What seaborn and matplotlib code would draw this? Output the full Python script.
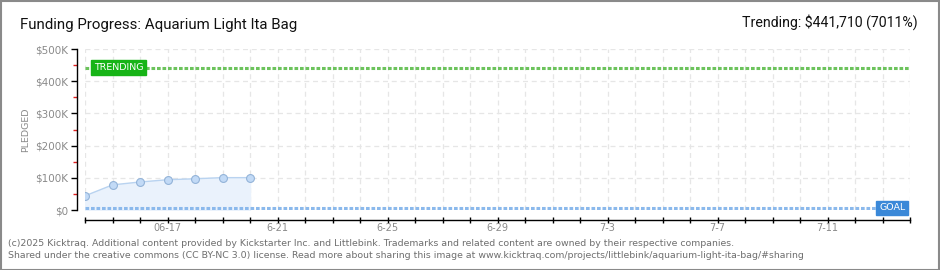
import matplotlib
matplotlib.use("Agg")
import matplotlib.pyplot as plt
import matplotlib.dates as mdates
from matplotlib.ticker import FixedLocator, FuncFormatter
from matplotlib.patches import Rectangle
import seaborn as sns
import pandas as pd

# ---- data ----
dates = ["2025-06-14", "2025-06-15", "2025-06-16", "2025-06-17",
         "2025-06-18", "2025-06-19", "2025-06-20"]
pledged = [44000, 78000, 87000, 94000, 97000, 100500, 100500]
goal = 6300
trending = 441710
trending_pct = "7011%"
xlabels_dates = ["2025-06-17", "2025-06-21", "2025-06-25", "2025-06-29",
                 "2025-07-03", "2025-07-07", "2025-07-11"]
xlabels_text = ["06-17", "6-21", "6-25", "6-29", "7-3", "7-7", "7-11"]
ytick_vals = [0, 100000, 200000, 300000, 400000, 500000]
ytick_labels = ["$0", "$100K", "$200K", "$300K", "$400K", "$500K"]
x_start, x_end = "2025-06-14", "2025-07-14"

sns.set_theme(style="white")
plt.rcParams['font.family'] = ['DejaVu Sans']
narrow = ['Roboto', 'DejaVu Sans']

df = pd.DataFrame({"date": pd.to_datetime(dates), "pledged": pledged})

fig = plt.figure(figsize=(9.4, 2.7), dpi=100)
fig.patch.set_facecolor("white")
fig.patches.append(Rectangle((0.5/940, 0.5/270), 1 - 1.5/940, 1 - 1.5/270,
                             transform=fig.transFigure, fill=False,
                             edgecolor="#8a8a8a", linewidth=1.5))

ax = fig.add_axes([85/940, 1 - 210/270, (910 - 85)/940, (210 - 49)/270])
ax.set_facecolor("white")

x0 = pd.Timestamp(x_start)
x1 = pd.Timestamp(x_end)
ax.set_xlim(x0, x1)
ax.set_ylim(0, 500000)

# fill area
ax.fill_between(df["date"], df["pledged"], 0, color="#eaf2fc", zorder=1)
sns.lineplot(data=df, x="date", y="pledged", ax=ax, color="#b9d3f0",
             linewidth=1.0, zorder=3)
sns.scatterplot(data=df, x="date", y="pledged", ax=ax, s=32,
                color="#c2daf6", edgecolor="#93b3d8", linewidth=0.8, zorder=4)

# grid
all_days = pd.date_range(x0, x1, freq="D")
for d in all_days:
    ax.axvline(d, color="#e6e6e6", lw=0.9, ls=(0, (4, 3)), zorder=0)
for v in ytick_vals:
    ax.axhline(v, color="#e6e6e6", lw=0.9, ls=(0, (4, 3)), zorder=0)

# trending and goal lines
ax.axhline(trending, color="#6cc35c", lw=2.2, ls=(0, (1.2, 0.6)), zorder=2)
ax.axhline(goal, color="#8bb9ec", lw=2.2, ls=(0, (1.2, 0.6)), zorder=2)

ax.text(pd.Timestamp("2025-06-14 08:00"), trending, "TRENDING", color="white",
        fontsize=6.8, va="center", ha="left", zorder=6,
        bbox=dict(boxstyle="square,pad=0.3", fc="#17b417", ec="#17b417"))
ax.text(pd.Timestamp("2025-07-14") - pd.Timedelta(hours=4), goal, "GOAL",
        color="white", fontsize=6.8, va="center", ha="right", zorder=6,
        bbox=dict(boxstyle="square,pad=0.3", fc="#3a88d8", ec="#3a88d8"))

# spines
sns.despine(ax=ax, top=True, right=True)
ax.spines["left"].set_position(("outward", 5.8))
ax.spines["bottom"].set_position(("outward", 7.2))
for s in ("left", "bottom"):
    ax.spines[s].set_color("black")
    ax.spines[s].set_linewidth(1.0)

# y ticks
ax.yaxis.set_major_locator(FixedLocator(ytick_vals))
ax.set_yticklabels(ytick_labels)
ax.yaxis.set_minor_locator(FixedLocator([50000, 150000, 250000, 350000, 450000]))
ax.tick_params(axis="y", which="major", length=4, width=1, color="black",
               labelsize=7.5, labelcolor="#8a8a8a", pad=2, left=True)
ax.tick_params(axis="y", which="minor", length=3, width=1, color="#e02020", left=True)

# x ticks
ax.xaxis.set_major_locator(FixedLocator(mdates.date2num(all_days)))
lab_map = {mdates.date2num(pd.Timestamp(d)): t for d, t in zip(xlabels_dates, xlabels_text)}
ax.xaxis.set_major_formatter(FuncFormatter(
    lambda v, p: next((t for k, t in lab_map.items() if abs(k - v) < 0.01), "")))
ax.tick_params(axis="x", which="major", length=5, width=1, color="black",
               direction="inout", labelsize=7, labelcolor="#8a8a8a", pad=0,
               bottom=True)

ax.set_xlabel("")
ax.set_ylabel("PLEDGED", fontsize=6.8, color="#8a8a8a", labelpad=4)

# titles
fig.text(20/940, 1 - 25/270, "Funding Progress: Aquarium Light Ita Bag",
         fontsize=10.8, color="#111111", va="center", ha="left", family=narrow)
fig.text(918/940, 1 - 22/270, "Trending: $441,710 (" + trending_pct + ")",
         fontsize=10.2, color="#111111", va="center", ha="right", family=narrow)

fig.text(8/940, 1 - 243.5/270,
         "(c)2025 Kicktraq. Additional content provided by Kickstarter Inc. and Littlebink. "
         "Trademarks and related content are owned by their respective companies.",
         fontsize=6.75, color="#6e6e6e", va="center", ha="left")
fig.text(8/940, 1 - 255.5/270,
         "Shared under the creative commons (CC BY-NC 3.0) license. Read more about sharing "
         "this image at www.kicktraq.com/projects/littlebink/aquarium-light-ita-bag/#sharing",
         fontsize=6.75, color="#6e6e6e", va="center", ha="left")

fig.savefig("out.png", dpi=100, facecolor="white")
